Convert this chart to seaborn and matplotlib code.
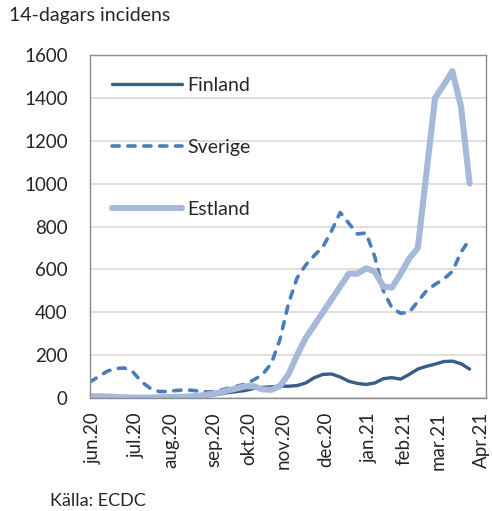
import numpy as np
import pandas as pd
import matplotlib
matplotlib.use("Agg")
import matplotlib.pyplot as plt
import matplotlib.transforms as mtransforms
import seaborn as sns

weeks = list(range(45))
finland = [8, 7, 6, 5, 4, 3, 3, 3, 3, 3, 4, 5, 6, 8, 12, 18, 25, 30, 35, 45,
           50, 52, 55, 55, 58, 70, 95, 110, 112, 98, 78, 68, 63, 70, 90, 95, 88,
           110, 135, 148, 158, 170, 172, 160, 135]
sverige = [75, 100, 125, 138, 140, 120, 75, 45, 30, 30, 35, 38, 35, 30, 28, 35,
           45, 55, 65, 85, 110, 160, 270, 440, 560, 620, 665, 705, 780, 865, 815,
           765, 770, 660, 500, 420, 395, 400, 450, 500, 530, 555, 590, 680, 740]
estland = [8, 8, 7, 5, 3, 2, 2, 2, 3, 4, 5, 6, 8, 12, 18, 25, 35, 45, 55, 55,
           40, 38, 55, 110, 200, 280, 340, 400, 460, 520, 580, 580, 605, 590,
           520, 515, 580, 650, 700, 1050, 1400, 1460, 1525, 1360, 1000]
tick_pos = [0, 5, 9, 14, 18, 22, 27, 32, 36, 40, 45]
tick_labels = ["jun.20", "jul.20", "aug.20", "sep.20", "okt.20", "nov.20",
               "dec.20", "jan.21", "feb.21", "mar.21", "Apr.21"]
y_ticks = [0, 200, 400, 600, 800, 1000, 1200, 1400, 1600]

sns.set_theme(style="white")
plt.rcParams['font.family'] = ['Lato', 'DejaVu Sans']

fig = plt.figure(figsize=(4.92, 5.11), dpi=100)
ax = fig.add_axes([90/492, 1-398/511, (486-90)/492, (398-55)/511])

df = pd.DataFrame({"week": weeks, "Finland": finland, "Sverige": sverige, "Estland": estland})

sns.lineplot(data=df, x="week", y="Finland", ax=ax, color="#385D8A", lw=2.4,
             label="Finland", solid_capstyle="round")
sns.lineplot(data=df, x="week", y="Sverige", ax=ax, color="#4A7EBB", lw=2.6,
             label="Sverige")
ax.lines[-1].set_dashes([2.0, 2.4])
ax.lines[-1].set_dash_capstyle("round")
sns.lineplot(data=df, x="week", y="Estland", ax=ax, color="#A7B9D8", lw=4.4,
             label="Estland", solid_capstyle="round")

ax.set_xlim(0, 45.9)
ax.set_ylim(0, 1600)
ax.set_yticks(y_ticks)
ax.set_yticklabels([str(v) for v in y_ticks], fontsize=13.5)
ax.set_xticks(tick_pos)
ax.set_xticklabels(tick_labels, rotation=90, fontsize=13.5)
ax.tick_params(axis="y", length=0, pad=16)
ax.tick_params(axis="x", length=0, pad=10)
offset = mtransforms.ScaledTranslation(3/100, 0, fig.dpi_scale_trans)
for lab in ax.get_xticklabels():
    lab.set_transform(lab.get_transform() + offset)
ax.set_xlabel("")
ax.set_ylabel("")
ax.grid(axis="y", color="#D9D9D9", lw=1.2)
ax.set_axisbelow(True)
for s in ax.spines.values():
    s.set_visible(True)
    s.set_color("#8C8C8C")
    s.set_linewidth(1.0)

leg = ax.legend(loc="upper left", bbox_to_anchor=(0.037, 0.958), frameon=False,
                fontsize=14, handlelength=3.6, handletextpad=0.25, labelspacing=2.3,
                borderaxespad=0)

fig.text(9/492, 1-16/511, "14-dagars incidens", fontsize=14, va="center", ha="left")
fig.text(50/492, 1-501/511, "Källa: ECDC", fontsize=13, va="center", ha="left")

fig.savefig("out.png", dpi=100)
